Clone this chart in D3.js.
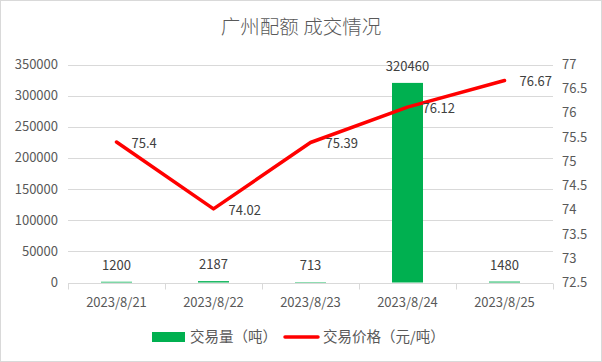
<!DOCTYPE html>
<html>
<head>
<meta charset="utf-8">
<script src="https://cdn.jsdelivr.net/npm/d3@7.9.0/dist/d3.min.js"></script>
<style>
  body { margin: 0; background: #fff; }
  svg { display: block; font-family: "Noto Sans CJK SC", "Noto Sans", sans-serif; }
</style>
</head>
<body>
<svg id="chart" width="602" height="362"></svg>
<script>
const dates = ['2023/8/21', '2023/8/22', '2023/8/23', '2023/8/24', '2023/8/25'];
const volumes = [1200, 2187, 713, 320460, 1480];
const prices = [75.4, 74.02, 75.39, 76.12, 76.67];
const leftTicks = [0, 50000, 100000, 150000, 200000, 250000, 300000, 350000];
const rightTicks = [72.5, 73, 73.5, 74, 74.5, 75, 75.5, 76, 76.5, 77];

const textColor = '#595959';
const gridColor = '#d9d9d9';
const svg = d3.select('#chart');

// outer border
svg.append('rect')
  .attr('x', 0.5).attr('y', 0.5)
  .attr('width', 601).attr('height', 361)
  .attr('fill', '#fff').attr('stroke', gridColor);

svg.append('text')
  .attr('x', 301).attr('y', 34)
  .attr('text-anchor', 'middle')
  .attr('font-size', 19.5)
  .attr('font-weight', 300)
  .attr('fill', textColor)
  .text('广州配额 成交情况');

const plotL = 68, plotR = 553, plotT = 64.5, plotB = 282.5;

const x = d3.scaleBand().domain(dates).range([plotL, plotR]);
const yL = d3.scaleLinear().domain([0, 350000]).range([plotB, plotT]);
const yR = d3.scaleLinear().domain([72.5, 77]).range([plotB, plotT]);

// gridlines
svg.append('g').selectAll('line').data(leftTicks.slice(1)).join('line')
  .attr('x1', plotL).attr('x2', plotR)
  .attr('y1', d => Math.round(yL(d)) + 0.5).attr('y2', d => Math.round(yL(d)) + 0.5)
  .attr('stroke', gridColor);

// bottom axis with category ticks
const xAxis = svg.append('g').attr('transform', `translate(0,${Math.round(plotB) + 0.5})`);
xAxis.append('line').attr('x1', plotL).attr('x2', plotR).attr('stroke', gridColor);
const edges = dates.map((d) => x(d)).concat([plotR]);
xAxis.selectAll('line.tk').data(edges).join('line').attr('class', 'tk')
  .attr('x1', d => Math.round(d) + 0.5).attr('x2', d => Math.round(d) + 0.5)
  .attr('y1', 0).attr('y2', 6)
  .attr('stroke', gridColor);
xAxis.selectAll('text').data(dates).join('text')
  .attr('x', d => x(d) + x.bandwidth() / 2)
  .attr('y', 23)
  .attr('text-anchor', 'middle')
  .attr('font-size', 13)
  .attr('fill', textColor)
  .text(d => d);

// left axis labels
svg.append('g').selectAll('text').data(leftTicks).join('text')
  .attr('x', 58).attr('y', d => yL(d) + 4.5)
  .attr('text-anchor', 'end')
  .attr('font-size', 13)
  .attr('fill', textColor)
  .text(d => d);

// right axis labels
svg.append('g').selectAll('text').data(rightTicks).join('text')
  .attr('x', 562).attr('y', d => yR(d) + 4.5)
  .attr('text-anchor', 'start')
  .attr('font-size', 13)
  .attr('fill', textColor)
  .text(d => d);

// bars
const barW = 31;
svg.append('g').selectAll('rect').data(volumes).join('rect')
  .attr('x', (d, i) => x(dates[i]) + x.bandwidth() / 2 - barW / 2)
  .attr('y', d => yL(d))
  .attr('width', barW)
  .attr('height', d => plotB - yL(d))
  .attr('fill', '#00b050');

svg.append('g').selectAll('text').data(volumes).join('text')
  .attr('x', (d, i) => x(dates[i]) + x.bandwidth() / 2)
  .attr('y', d => yL(d) - 12)
  .attr('text-anchor', 'middle')
  .attr('font-size', 13)
  .attr('fill', '#404040')
  .text(d => d);

// price line
const line = d3.line()
  .x((d, i) => x(dates[i]) + x.bandwidth() / 2)
  .y(d => yR(d));
svg.append('path')
  .datum(prices)
  .attr('d', line)
  .attr('fill', 'none')
  .attr('stroke', '#ff0000')
  .attr('stroke-width', 3.5)
  .attr('stroke-linejoin', 'round')
  .attr('stroke-linecap', 'round');

svg.append('g').selectAll('text').data(prices).join('text')
  .attr('x', (d, i) => x(dates[i]) + x.bandwidth() / 2 + 15)
  .attr('y', d => yR(d) + 6)
  .attr('font-size', 13)
  .attr('fill', '#404040')
  .text(d => d);

// legend
const lg = svg.append('g');
lg.append('rect').attr('x', 152).attr('y', 332).attr('width', 33).attr('height', 10).attr('fill', '#00b050');
lg.append('text').attr('x', 190).attr('y', 342).attr('font-size', 14.5).attr('fill', textColor).text('交易量（吨）');
lg.append('line').attr('x1', 285).attr('x2', 318).attr('y1', 337).attr('y2', 337)
  .attr('stroke', '#ff0000').attr('stroke-width', 3.5).attr('stroke-linecap', 'round');
lg.append('text').attr('x', 323).attr('y', 342).attr('font-size', 14.5).attr('fill', textColor).text('交易价格（元/吨）');
</script>
</body>
</html>
